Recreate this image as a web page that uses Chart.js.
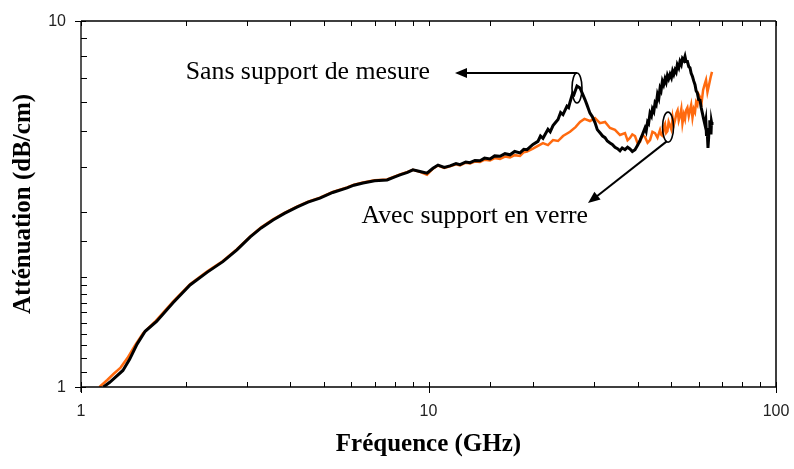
<!DOCTYPE html>
<html lang="fr">
<head>
  <meta charset="UTF-8" />
  <title>Atténuation - Fréquence</title>
  <script src="https://cdn.jsdelivr.net/npm/chart.js"></script>
  <style>
    html, body { margin: 0; padding: 0; background: #fff; }
  </style>
</head>
<body>
  <canvas id="attChart" width="794" height="469"></canvas>

  <script>
    // Sans support de mesure (noir)
    const freqBlack = [
      1.16, 1.21, 1.32, 1.38, 1.45, 1.53, 1.65, 1.84, 2.06, 2.31,
      2.56, 2.81, 3.07, 3.30, 3.57, 3.85, 4.18, 4.50, 4.87, 5.30,
      5.83, 6.10, 6.48, 7.00, 7.60, 8.00, 8.28, 8.70, 9.02, 9.45,
      9.90, 10.30, 10.65, 11.10, 11.53, 12.00, 12.32, 12.80, 13.17, 13.60,
      14.07, 14.50, 15.03, 15.50, 16.06, 16.60, 17.16, 17.70, 18.34, 18.80,
      19.21, 19.98, 20.65, 21.00, 21.35, 22.07, 22.40, 22.82, 23.20, 23.59,
      24.00, 24.38, 25.03, 25.30, 25.54, 26.00, 26.22, 26.75, 27.29, 27.83,
      28.20, 28.58, 29.15, 29.60, 30.14, 30.60, 31.15, 31.70, 32.21, 32.70,
      33.29, 33.80, 34.41, 35.00, 35.57, 36.10, 36.77, 37.40, 38.00, 38.60,
      39.29, 40.00, 40.61, 41.30, 41.98, 42.30, 42.70, 43.00, 43.40, 43.80,
      44.10, 44.50, 44.86, 45.20, 45.60, 46.00, 46.38, 46.70, 47.10, 47.50,
      47.93, 48.30, 48.70, 49.10, 49.55, 50.00, 50.40, 50.80, 51.22, 51.60,
      52.00, 52.50, 52.93, 53.40, 53.80, 54.30, 54.72, 55.10, 55.60, 56.10,
      56.56, 57.00, 57.50, 58.00, 58.47, 58.90, 59.40, 59.90, 60.44, 60.90,
      61.40, 61.90, 62.47, 62.80, 63.10, 63.40, 63.72, 64.00, 64.15, 64.40,
      64.57, 64.80, 65.00, 65.20, 65.43
    ];
    const attBlack = [
      1.00, 1.03, 1.11, 1.19, 1.31, 1.42, 1.51, 1.70, 1.90, 2.06,
      2.20, 2.37, 2.57, 2.72, 2.86, 2.98, 3.10, 3.20, 3.28, 3.40,
      3.50, 3.56, 3.61, 3.66, 3.68, 3.75, 3.80, 3.86, 3.92, 3.88,
      3.84, 3.96, 4.04, 3.98, 4.02, 4.08, 4.05, 4.12, 4.10, 4.16,
      4.15, 4.22, 4.20, 4.28, 4.27, 4.34, 4.31, 4.40, 4.36, 4.46,
      4.45, 4.60, 4.69, 4.85, 4.78, 5.06, 4.98, 5.18, 5.28, 5.38,
      5.62, 5.55, 5.85, 5.80, 6.00, 6.35, 6.30, 6.64, 6.56, 6.28,
      6.10, 5.90, 5.60, 5.48, 5.28, 5.05, 4.95, 4.85, 4.80, 4.70,
      4.64, 4.60, 4.52, 4.48, 4.42, 4.50, 4.45, 4.52, 4.47, 4.40,
      4.45, 4.58, 4.72, 4.90, 5.10, 5.00, 5.30, 5.25, 5.60, 5.50,
      5.75, 5.65, 5.97, 5.90, 6.30, 6.15, 6.55, 6.45, 6.85, 6.70,
      6.95, 6.80, 7.10, 6.95, 7.15, 7.00, 7.30, 7.15, 7.35, 7.25,
      7.60, 7.45, 7.75, 7.60, 7.90, 7.80, 8.00, 7.75, 7.75, 7.50,
      7.45, 7.20, 7.05, 6.85, 6.70, 6.45, 6.35, 6.10, 6.08, 5.80,
      5.60, 5.40, 5.20, 5.35, 4.85, 5.00, 4.50, 4.80, 5.10, 4.90,
      5.36, 5.10, 4.90, 5.30, 5.20
    ];

    // Avec support en verre (orange)
    const freqOrange = [
      1.13, 1.19, 1.24, 1.30, 1.36, 1.43, 1.51, 1.63, 1.84, 2.06,
      2.31, 2.56, 2.81, 3.07, 3.30, 3.57, 3.85, 4.18, 4.50, 4.87,
      5.30, 5.83, 6.10, 6.48, 7.00, 7.60, 8.00, 8.28, 8.70, 9.02,
      9.45, 9.90, 10.30, 10.65, 11.10, 11.53, 12.00, 12.32, 12.80, 13.17,
      13.60, 14.07, 14.50, 15.03, 15.50, 16.06, 16.60, 17.16, 17.70, 18.34,
      18.80, 19.21, 19.98, 20.65, 21.35, 22.07, 22.82, 23.59, 24.38, 25.54,
      26.49, 27.29, 28.10, 29.15, 30.14, 31.15, 32.21, 33.29, 34.41, 35.57,
      36.77, 37.40, 38.00, 38.60, 39.29, 40.00, 40.61, 41.30, 41.98, 42.70,
      43.40, 44.10, 44.86, 45.60, 46.38, 46.80, 47.20, 47.60, 47.93, 48.30,
      48.70, 49.10, 49.55, 50.00, 50.40, 50.80, 51.22, 51.70, 52.10, 52.50,
      52.93, 53.40, 53.80, 54.30, 54.72, 55.10, 55.60, 56.10, 56.56, 57.00,
      57.50, 58.00, 58.47, 58.90, 59.40, 59.90, 60.44, 61.10, 61.70, 62.30,
      62.90, 63.50, 64.15, 64.80, 65.43
    ];
    const attOrange = [
      1.00, 1.045, 1.085, 1.13, 1.20, 1.30, 1.405, 1.505, 1.71, 1.91,
      2.07, 2.21, 2.38, 2.58, 2.73, 2.87, 2.99, 3.11, 3.21, 3.29,
      3.41, 3.51, 3.57, 3.62, 3.67, 3.69, 3.76, 3.81, 3.87, 3.92,
      3.87, 3.80, 3.95, 4.03, 3.97, 4.01, 4.06, 4.03, 4.10, 4.08,
      4.13, 4.12, 4.18, 4.16, 4.22, 4.20, 4.26, 4.24, 4.30, 4.28,
      4.38, 4.40, 4.48, 4.56, 4.64, 4.58, 4.73, 4.70, 4.85, 4.98,
      5.13, 5.30, 5.40, 5.33, 5.43, 5.26, 5.30, 5.10, 5.04, 4.88,
      4.94, 4.72, 4.79, 4.90, 4.85, 4.62, 4.67, 4.88, 4.82, 4.65,
      4.73, 4.98, 4.94, 4.80, 5.04, 4.88, 4.85, 5.15, 5.23, 4.95,
      5.00, 5.30, 5.17, 5.05, 5.45, 5.20, 5.36, 5.60, 5.70, 5.35,
      5.50, 5.75, 5.25, 5.55, 5.40, 5.70, 5.80, 5.50, 5.71, 5.90,
      5.45, 5.75, 5.64, 6.00, 5.90, 6.30, 6.20, 6.00, 6.48, 6.70,
      6.90, 6.40, 6.69, 7.00, 7.26
    ];

    const xTickLabels = [1, 10, 100];
    const yTickLabels = [1, 10];

    const toPoints = (xs, ys) => xs.map((x, i) => ({ x: x, y: ys[i] }));
    const isDecade = v => Math.abs(Math.log10(v) - Math.round(Math.log10(v))) < 1e-6;

    // frame, inward ticks, tick labels and the two annotations
    const framePlugin = {
      id: 'frame',
      afterDraw(chart) {
        const ctx = chart.ctx;
        const xs = chart.scales.x, ys = chart.scales.y;
        const { left, right, top, bottom } = chart.chartArea;
        ctx.save();

        // box
        ctx.strokeStyle = '#000';
        ctx.lineWidth = 1.5;
        ctx.beginPath();
        ctx.moveTo(left, top); ctx.lineTo(right, top);
        ctx.moveTo(right, top); ctx.lineTo(right, bottom);
        ctx.moveTo(left, bottom); ctx.lineTo(right, bottom);
        ctx.stroke();
        ctx.strokeStyle = '#555';
        ctx.lineWidth = 2;
        ctx.beginPath();
        ctx.moveTo(left, top); ctx.lineTo(left, bottom + 5);
        ctx.stroke();

        // x ticks
        ctx.strokeStyle = '#000';
        ctx.lineWidth = 1;
        ctx.beginPath();
        xs.ticks.forEach(t => {
          const px = Math.round(xs.getPixelForValue(t.value)) + 0.5;
          if (isDecade(t.value)) {
            ctx.moveTo(px, bottom - 5); ctx.lineTo(px, bottom + 6);
            ctx.moveTo(px, top); ctx.lineTo(px, top + 5);
          } else {
            ctx.moveTo(px, bottom); ctx.lineTo(px, bottom - 5);
            ctx.moveTo(px, top); ctx.lineTo(px, top + 5);
          }
        });
        // y ticks
        ys.ticks.forEach(t => {
          const py = Math.round(ys.getPixelForValue(t.value)) + 0.5;
          if (isDecade(t.value)) {
            ctx.moveTo(left - 6, py); ctx.lineTo(left + 5, py);
          } else {
            ctx.moveTo(left, py); ctx.lineTo(left + 6, py);
          }
        });
        ctx.stroke();

        // tick labels
        ctx.fillStyle = '#222';
        ctx.font = '16px "Liberation Sans", Arial, sans-serif';
        ctx.textBaseline = 'middle';
        ctx.textAlign = 'center';
        xTickLabels.forEach(v => ctx.fillText(String(v), xs.getPixelForValue(v), bottom + 25));
        ctx.textAlign = 'right';
        yTickLabels.forEach(v => ctx.fillText(String(v), left - 15, ys.getPixelForValue(v) + 1));

        // annotations
        const arrowHead = (x1, y1, x2, y2) => {
          const a = Math.atan2(y2 - y1, x2 - x1);
          ctx.beginPath();
          ctx.moveTo(x2, y2);
          ctx.lineTo(x2 - 12 * Math.cos(a) + 5 * Math.sin(a), y2 - 12 * Math.sin(a) - 5 * Math.cos(a));
          ctx.lineTo(x2 - 12 * Math.cos(a) - 5 * Math.sin(a), y2 - 12 * Math.sin(a) + 5 * Math.cos(a));
          ctx.closePath();
          ctx.fill();
        };
        ctx.strokeStyle = '#000';
        ctx.fillStyle = '#000';
        ctx.lineWidth = 1.6;

        // Sans support de mesure
        const c1x = xs.getPixelForValue(26.75), c1y = ys.getPixelForValue(6.56);
        ctx.beginPath();
        ctx.ellipse(c1x, c1y, 5, 15, 0, 0, Math.PI * 2);
        ctx.stroke();
        const a1y = c1y - 15, a1x = c1x - 122;
        ctx.lineWidth = 2;
        ctx.beginPath();
        ctx.moveTo(c1x, a1y); ctx.lineTo(a1x + 8, a1y);
        ctx.stroke();
        arrowHead(c1x, a1y, a1x, a1y);

        // Avec support en verre
        const c2x = xs.getPixelForValue(48.9), c2y = ys.getPixelForValue(5.13);
        ctx.lineWidth = 1.6;
        ctx.beginPath();
        ctx.ellipse(c2x, c2y, 5.5, 15, 0, 0, Math.PI * 2);
        ctx.stroke();
        const s2x = c2x - 1, s2y = c2y + 14;
        const a2x = c2x - 80, a2y = c2y + 76;
        ctx.lineWidth = 2;
        ctx.beginPath();
        ctx.moveTo(s2x, s2y); ctx.lineTo(a2x + 6, a2y - 4.6);
        ctx.stroke();
        arrowHead(s2x, s2y, a2x, a2y);

        ctx.font = '25.8px "Liberation Serif", "Times New Roman", serif';
        ctx.textBaseline = 'alphabetic';
        ctx.textAlign = 'right';
        ctx.fillText('Sans support de mesure', a1x - 25, a1y + 6);
        ctx.fillText('Avec support en verre', a2x, a2y + 20);

        ctx.restore();
      }
    };

    const titleFont = { family: '"Liberation Serif", "Times New Roman", serif', size: 25, weight: 'bold' };

    new Chart(document.getElementById('attChart'), {
      type: 'line',
      data: {
        datasets: [
          {
            label: 'Sans support de mesure',
            data: toPoints(freqBlack, attBlack),
            borderColor: '#000000',
            borderWidth: 3,
            pointRadius: 0,
            tension: 0,
            order: 1
          },
          {
            label: 'Avec support en verre',
            data: toPoints(freqOrange, attOrange),
            borderColor: '#FF6A0F',
            borderWidth: 2.5,
            pointRadius: 0,
            tension: 0,
            order: 2
          }
        ]
      },
      options: {
        responsive: false,
        devicePixelRatio: 1,
        animation: false,
        layout: { padding: { top: 21, right: 18, left: 0, bottom: 0 } },
        plugins: { legend: { display: false }, tooltip: { enabled: false } },
        scales: {
          x: {
            type: 'logarithmic',
            min: 1,
            max: 100,
            grid: { display: false },
            border: { display: false },
            ticks: { display: false },
            title: {
              display: true,
              text: 'Fréquence (GHz)',
              color: '#000',
              font: titleFont,
              padding: { top: 0, bottom: 9 }
            },
            afterFit: s => { s.height = 82; s.paddingLeft = 0; s.paddingRight = 0; }
          },
          y: {
            type: 'logarithmic',
            min: 1,
            max: 10,
            grid: { display: false },
            border: { display: false },
            ticks: { display: false },
            title: {
              display: true,
              text: 'Atténuation (dB/cm)',
              color: '#000',
              font: titleFont,
              padding: { top: 9, bottom: 0 }
            },
            afterFit: s => { s.width = 81; s.paddingTop = 0; s.paddingBottom = 0; }
          }
        }
      },
      plugins: [framePlugin]
    });
  </script>
</body>
</html>
